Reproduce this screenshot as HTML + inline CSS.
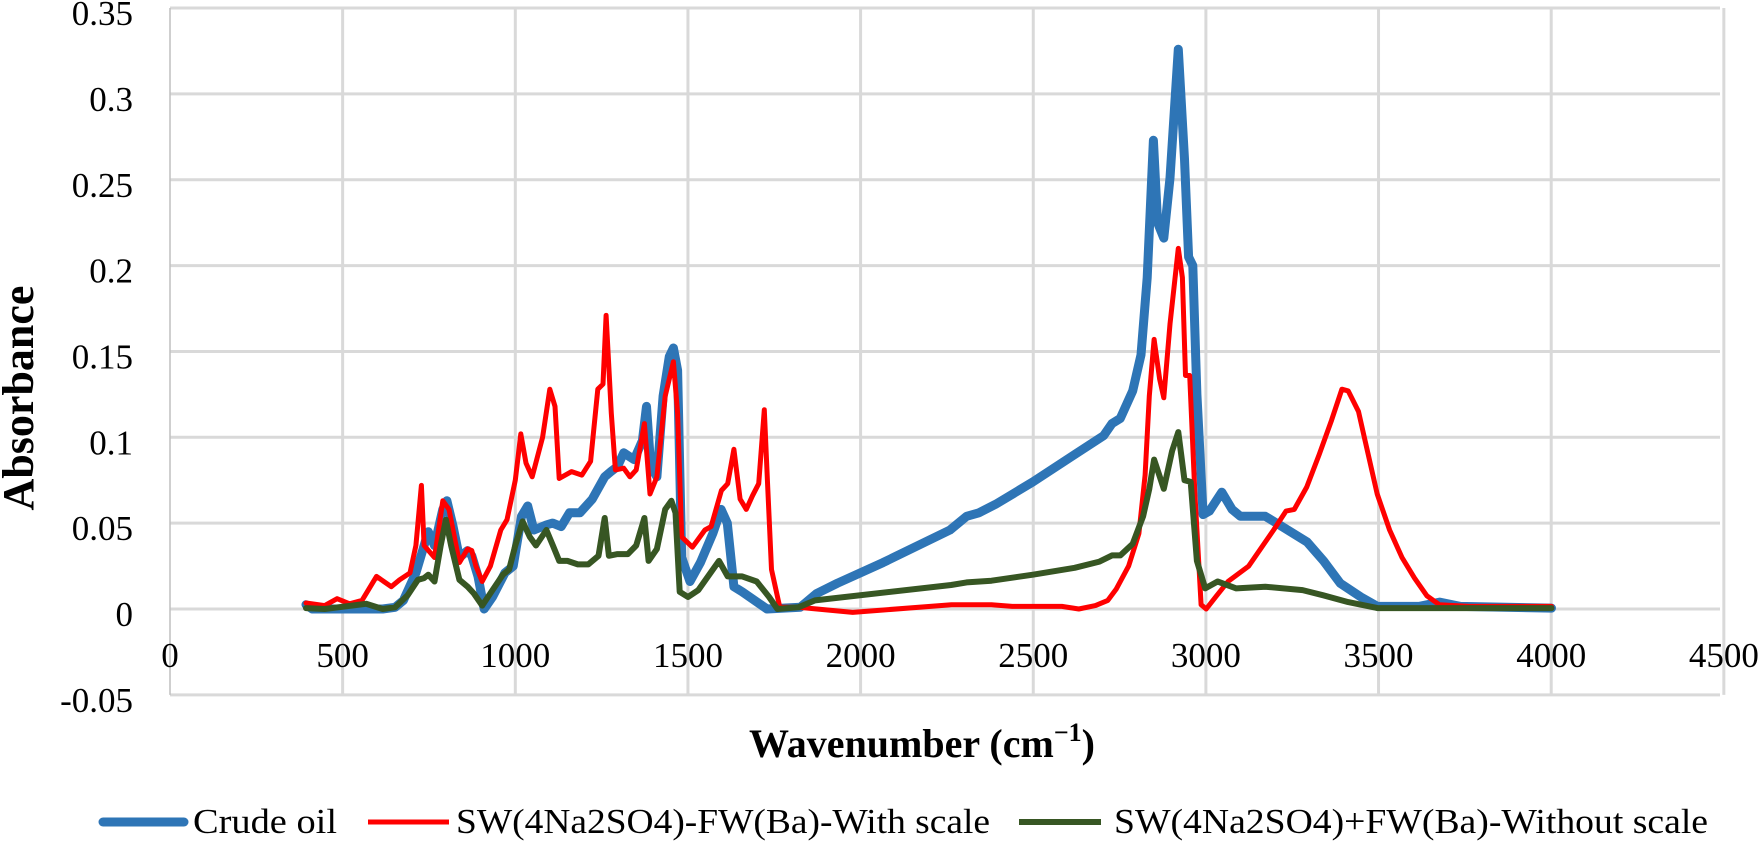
<!DOCTYPE html>
<html><head><meta charset="utf-8"><style>
html,body{margin:0;padding:0;background:#fff;}
svg{display:block;font-family:"Liberation Serif",serif;}
</style></head><body>
<svg id="s" width="1759" height="841" xmlns="http://www.w3.org/2000/svg">
<g id="grid"></g>
<g id="series" fill="none" stroke-linejoin="round" stroke-linecap="round"></g>
<g id="labels" font-size="35" fill="#000"></g>
<text x="922" y="757" font-size="40" font-weight="bold" text-anchor="middle">Wavenumber (cm<tspan font-size="26" dy="-16">−1</tspan><tspan dy="16">)</tspan></text>
<text transform="translate(33,398) rotate(-90)" font-size="44" font-weight="bold" text-anchor="middle">Absorbance</text>
<g font-size="35">
<line x1="103" y1="822" x2="184" y2="822" stroke="#2e75b6" stroke-width="9" stroke-linecap="round"/>
<text x="193" y="833" textLength="144" lengthAdjust="spacingAndGlyphs">Crude oil</text>
<line x1="368" y1="822" x2="449" y2="822" stroke="#ff0000" stroke-width="5"/>
<text x="456" y="833" textLength="534" lengthAdjust="spacingAndGlyphs">SW(4Na2SO4)-FW(Ba)-With scale</text>
<line x1="1019" y1="822" x2="1101" y2="822" stroke="#375623" stroke-width="6"/>
<text x="1114" y="833" textLength="594" lengthAdjust="spacingAndGlyphs">SW(4Na2SO4)+FW(Ba)-Without scale</text>
</g>
</svg>
<script>
const NS="http://www.w3.org/2000/svg";
const X=w=>170+0.3453*w, Y=a=>609-1717*a;
const g=document.getElementById('grid'), lb=document.getElementById('labels'), se=document.getElementById('series');
function el(p,t,at,txt){const e=document.createElementNS(NS,t);for(const k in at)e.setAttribute(k,at[k]);if(txt!==undefined)e.textContent=txt;p.appendChild(e);return e;}
for(let i=-1;i<=7;i++){const a=i*0.05,y=Y(a);
 el(g,'line',{x1:170,x2:1720,y1:y,y2:y,stroke:'#d9d9d9','stroke-width':3});
 el(lb,'text',{x:133,y:y+17,'text-anchor':'end'},i==0?'0':(Math.round(a*100)/100).toString());}
for(let i=1;i<=9;i++){const x=X(i*500);el(g,'line',{x1:x,x2:x,y1:Y(0.35),y2:Y(-0.05),stroke:'#d9d9d9','stroke-width':3});}
el(g,'line',{x1:170,x2:170,y1:Y(0.35),y2:Y(-0.05),stroke:'#bfbfbf','stroke-width':1.5});
for(let i=0;i<=9;i++){el(lb,'text',{x:X(i*500),y:667,'text-anchor':'middle'},String(i*500));}
const blue=[[394,.0025],[412,0],[616,0],[652,.001],[676,.005],[712,.021],[736,.037],[748,.045],[766,.037],[790,.058],[802,.063],[820,.048],[838,.030],[862,.034],[874,.031],[892,.019],[910,0],[934,.007],[970,.021],[994,.025],[1018,.054],[1036,.060],[1054,.046],[1090,.049],[1108,.050],[1133,.048],[1157,.056],[1187,.056],[1223,.064],[1259,.077],[1277,.080],[1296,.083],[1314,.091],[1344,.087],[1368,.098],[1380,.118],[1392,.083],[1410,.077],[1428,.124],[1446,.147],[1458,.152],[1470,.139],[1482,.030],[1506,.016],[1536,.027],[1572,.044],[1596,.058],[1614,.050],[1633,.013],[1657,.010],[1729,0],[1825,.001],[1873,.009],[1933,.015],[2065,.027],[2259,.046],[2307,.054],[2343,.056],[2391,.061],[2499,.074],[2620,.09],[2704,.101],[2728,.108],[2752,.111],[2788,.127],[2812,.148],[2830,.193],[2848,.273],[2860,.225],[2878,.216],[2896,.251],[2920,.326],[2938,.262],[2950,.205],[2962,.200],[2974,.125],[2992,.055],[3010,.057],[3046,.068],[3076,.058],[3100,.054],[3172,.054],[3221,.048],[3293,.039],[3341,.028],[3389,.015],[3449,.007],[3497,.0015],[3617,.0015],[3677,.004],[3737,.0015],[4001,.0005]];
const red=[[394,.0035],[448,.002],[484,.006],[520,.003],[556,.005],[598,.019],[641,.013],[665,.017],[695,.021],[712,.037],[728,.072],[736,.037],[766,.030],[790,.063],[808,.058],[838,.027],[862,.035],[874,.034],[886,.025],[904,.016],[928,.025],[958,.046],[976,.052],[1000,.075],[1016,.102],[1031,.085],[1049,.077],[1079,.1],[1100,.128],[1115,.118],[1127,.076],[1163,.080],[1193,.078],[1218,.086],[1239,.128],[1254,.131],[1263,.171],[1278,.114],[1290,.081],[1314,.082],[1332,.077],[1350,.081],[1374,.108],[1390,.067],[1410,.077],[1434,.124],[1458,.144],[1470,.114],[1482,.042],[1513,.036],[1549,.046],[1567,.048],[1597,.069],[1615,.073],[1633,.093],[1651,.064],[1669,.058],[1687,.066],[1705,.073],[1721,.116],[1730,.075],[1742,.023],[1766,.001],[1820,.001],[1977,-.002],[2263,.0025],[2379,.0025],[2439,.0015],[2583,.0015],[2632,0],[2680,.002],[2716,.005],[2740,.0115],[2776,.025],[2806,.044],[2824,.078],[2836,.124],[2850,.157],[2866,.134],[2878,.123],[2896,.166],[2920,.210],[2932,.193],[2941,.136],[2953,.136],[2968,.067],[2986,.0025],[3001,0],[3028,.007],[3064,.016],[3124,.025],[3196,.046],[3232,.057],[3256,.058],[3292,.071],[3328,.090],[3364,.110],[3394,.128],[3412,.127],[3442,.115],[3460,.099],[3496,.067],[3532,.046],[3568,.030],[3604,.018],[3640,.0077],[3676,.0025],[3761,.0015],[4001,.0015]];
const green=[[394,.0005],[448,0],[568,.003],[616,0],[652,.001],[688,.008],[718,.017],[736,.018],[748,.020],[766,.016],[784,.037],[799,.052],[814,.037],[838,.017],[862,.013],[880,.009],[904,.002],[934,.011],[964,.020],[982,.023],[1000,.037],[1021,.051],[1042,.042],[1060,.037],[1090,.046],[1109,.037],[1127,.028],[1151,.028],[1181,.026],[1211,.026],[1241,.031],[1259,.053],[1271,.031],[1296,.032],[1326,.032],[1350,.037],[1374,.053],[1386,.028],[1410,.035],[1434,.058],[1452,.063],[1464,.056],[1476,.010],[1500,.007],[1530,.011],[1590,.028],[1615,.019],[1657,.019],[1699,.016],[1735,.007],[1759,0],[1820,.001],[1868,.005],[2262,.014],[2307,.0155],[2379,.0165],[2499,.020],[2620,.024],[2692,.0276],[2728,.0312],[2752,.0312],[2788,.038],[2818,.054],[2836,.070],[2850,.087],[2878,.070],[2902,.092],[2920,.103],[2938,.075],[2956,.074],[2974,.028],[2998,.012],[3034,.016],[3088,.012],[3172,.013],[3280,.011],[3340,.008],[3412,.004],[3497,.0005],[4001,.0005]];
function pl(d,c,w){el(se,'polyline',{points:d.map(p=>X(p[0]).toFixed(1)+','+Y(p[1]).toFixed(1)).join(' '),stroke:c,'stroke-width':w});}
pl(blue,'#2e75b6',9);pl(red,'#ff0000',5);pl(green,'#375623',6);
</script>
</body></html>
